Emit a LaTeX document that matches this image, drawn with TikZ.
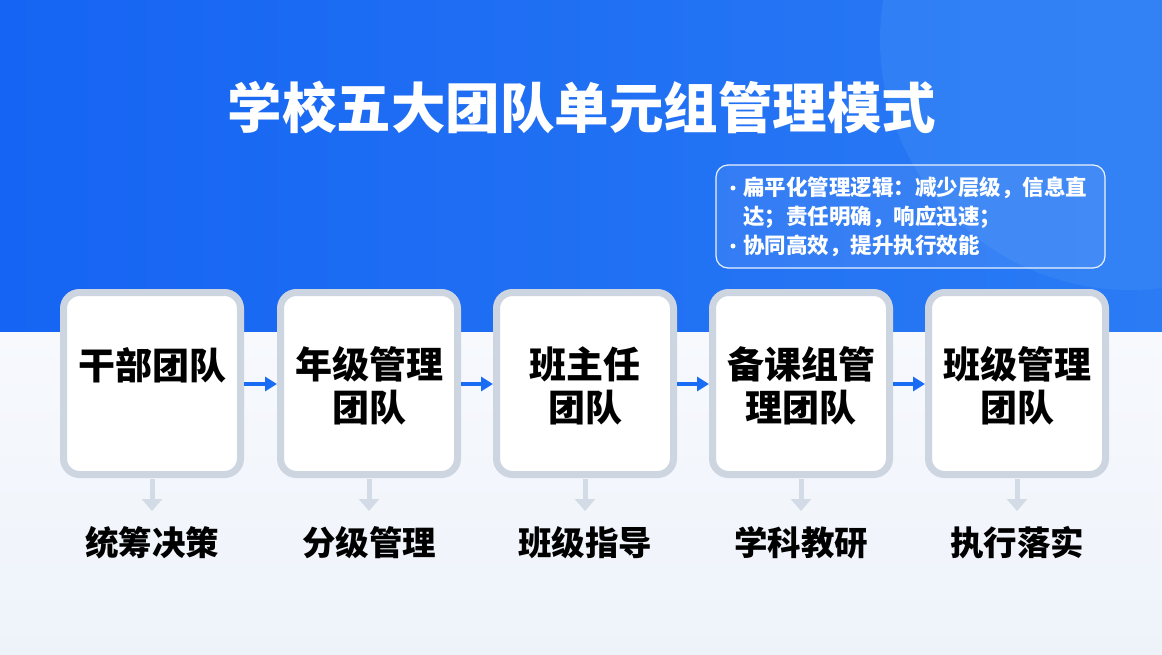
\documentclass[tikz,border=0pt]{standalone}
\usepackage{fontspec}
\setmainfont{Noto Sans CJK SC}
\newfontfamily\cjk{Noto Sans CJK SC}
\usetikzlibrary{arrows.meta}
\definecolor{bandL}{HTML}{1664F3}
\definecolor{bandR}{HTML}{2A7BF4}
\definecolor{circ}{HTML}{3A88F6}
\definecolor{bgtop}{HTML}{F7F9FD}
\definecolor{bgbot}{HTML}{EEF3FA}
\definecolor{cardline}{HTML}{CDD5E1}
\definecolor{arrowblue}{HTML}{1A6CF5}
\definecolor{downgrey}{HTML}{D3DBE7}
\tikzset{
  card/.style={draw=cardline, line width=7pt, fill=white, rounded corners=16pt,
    minimum width=177pt, minimum height=182pt, inner sep=0pt},
  cardtext/.style={font=\cjk\bfseries\fontsize{37}{43}\selectfont, align=center, text=black, inner sep=0pt},
  sublabel/.style={font=\cjk\bfseries\fontsize{33.5}{38}\selectfont, text=black, inner sep=0pt},
  flow/.style={draw=arrowblue, line width=3.5pt, -{Triangle[length=12pt,width=14pt]}},
  down/.style={draw=downgrey, line width=5pt, -{Triangle[length=12pt,width=20pt]}},
  info/.style={font=\cjk\bfseries\fontsize{21.5}{29}\selectfont, text=white, inner sep=0pt, anchor=west},
  bullet/.style={circle, fill=white, inner sep=0pt, minimum size=5pt},
}
\begin{document}
\begin{tikzpicture}[x=1pt,y=-1pt]
\useasboundingbox (0,0) rectangle (1162,654);
% background
\shade[top color=bgtop, bottom color=bgbot] (0,330) rectangle (1162,654);
\shade[left color=bandL, right color=bandR] (0,0) rectangle (1162,331);
\begin{scope}
\clip (0,0) rectangle (1162,331);
\fill[circ, opacity=0.55] (1130,40) circle (250);
\end{scope}
% title
\node (title) [font=\cjk\bfseries\fontsize{54.5}{60}\selectfont, text=white, inner sep=0pt] at (582,107) {学校五大团队单元组管理模式};
% info box
\node (info) [draw=white, line width=1.2pt, rounded corners=12pt, fill=white, fill opacity=0.08, draw opacity=0.9,
  minimum width=389pt, minimum height=103pt] at (910.5,216.5) {};
\node (i1) [bullet] at (733,188) {};
\node (i1t) [info] at (743,188) {扁平化管理逻辑：减少层级，信息直};
\node (i2t) [info] at (743,217) {达；责任明确，响应迅速；};
\node (i3) [bullet] at (733,246) {};
\node (i3t) [info] at (743,246) {协同高效，提升执行效能};
% cards
\foreach \i/\cx in {1/152,2/369,3/585,4/801,5/1017}{
  \node (c\i) [card] at (\cx,383.5) {};
}
\node (t1) [cardtext] at (152,365) {干部团队};
\node (t2) [cardtext] at (369,386) {年级管理\\团队};
\node (t3) [cardtext] at (585,386) {班主任\\团队};
\node (t4) [cardtext] at (801,386) {备课组管\\理团队};
\node (t5) [cardtext] at (1017,386) {班级管理\\团队};
% flow arrows
\foreach \a/\b in {1/2,2/3,3/4,4/5}{
  \draw[flow] ([yshift=-0.5pt]c\a.east) -- ([yshift=-0.5pt]c\b.west);
}
% sub labels
\node (s1) [sublabel] at (152,543) {统筹决策};
\node (s2) [sublabel] at (369,543) {分级管理};
\node (s3) [sublabel] at (585,543) {班级指导};
\node (s4) [sublabel] at (801,543) {学科教研};
\node (s5) [sublabel] at (1017,543) {执行落实};
\foreach \i in {1,...,5}{
  \draw[down] ([yshift=-1pt]c\i.south) -- ([yshift=-33pt]c\i.south);
}
\end{tikzpicture}
\end{document}
